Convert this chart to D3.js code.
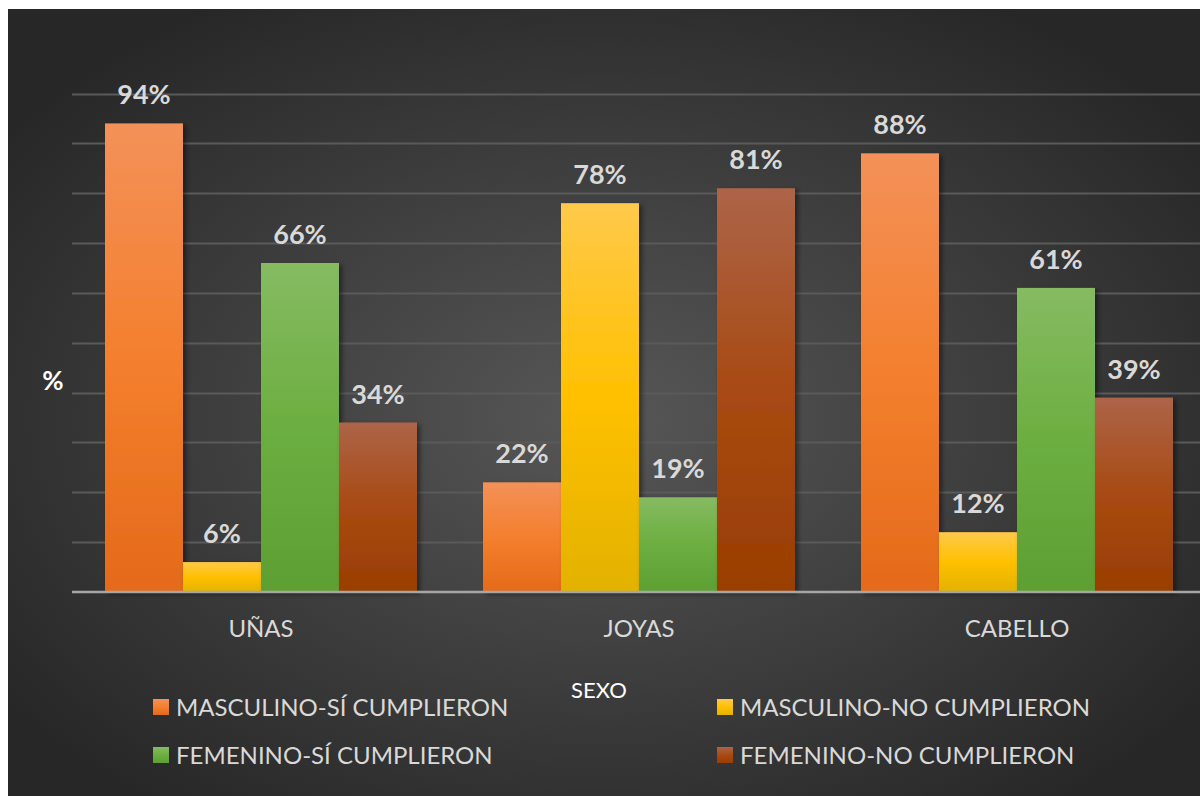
<!DOCTYPE html>
<html>
<head>
<meta charset="utf-8">
<script src="https://cdn.jsdelivr.net/npm/d3@7"></script>
<style>
  html, body { margin: 0; padding: 0; background: #ffffff; }
  svg { display: block; }
</style>
</head>
<body>
<svg id="chart" width="1200" height="796"></svg>
<script>
const categories = ["UÑAS", "JOYAS", "CABELLO"];
const seriesNames = ["MASCULINO-SÍ CUMPLIERON", "MASCULINO-NO CUMPLIERON", "FEMENINO-SÍ CUMPLIERON", "FEMENINO-NO CUMPLIERON"];
const masculinoSi = [94, 22, 88];
const masculinoNo = [6, 78, 12];
const femeninoSi = [66, 19, 61];
const femeninoNo = [34, 81, 39];
const yTicks = [0, 10, 20, 30, 40, 50, 60, 70, 80, 90, 100];
const xTitle = "SEXO";
const yTitle = "%";

const seriesValues = [masculinoSi, masculinoNo, femeninoSi, femeninoNo];
const gradStops = [
  ["#f39159", "#f47f2e", "#e46a1a"],
  ["#ffc94a", "#ffc000", "#e2b200"],
  ["#86bb62", "#6cae40", "#5e9f33"],
  ["#ad6448", "#a84a13", "#993e02"]
];

const svg = d3.select("#chart");
const W = 1200, H = 796;
const defs = svg.append("defs");

const bg = defs.append("radialGradient").attr("id", "bg")
  .attr("cx", "50%").attr("cy", "52%").attr("r", "62%");
bg.append("stop").attr("offset", "0%").attr("stop-color", "#575757");
bg.append("stop").attr("offset", "100%").attr("stop-color", "#272727");

gradStops.forEach((s, i) => {
  const g = defs.append("linearGradient").attr("id", "g" + i)
    .attr("x1", 0).attr("y1", 0).attr("x2", 0).attr("y2", 1);
  g.append("stop").attr("offset", "0%").attr("stop-color", s[0]);
  g.append("stop").attr("offset", "50%").attr("stop-color", s[1]);
  g.append("stop").attr("offset", "100%").attr("stop-color", s[2]);
});

const sh = defs.append("filter").attr("id", "shadow")
  .attr("x", "-10%").attr("y", "-10%").attr("width", "130%").attr("height", "130%");
sh.append("feDropShadow").attr("dx", 3).attr("dy", 2).attr("stdDeviation", 2.5)
  .attr("flood-color", "#000").attr("flood-opacity", 0.45);

svg.append("rect").attr("x", 8).attr("y", 9).attr("width", W - 8).attr("height", H - 9)
  .attr("fill", "url(#bg)");

const plotLeft = 72, plotRight = 1206, plotTop = 93.5, plotBottom = 592;
const y = d3.scaleLinear().domain([0, 100]).range([plotBottom, plotTop]);
const x0 = d3.scaleBand().domain(categories).range([plotLeft, plotRight])
  .paddingInner(0.1746).paddingOuter(0.0873);
const x1 = d3.scaleBand().domain(seriesNames).range([0, x0.bandwidth()]);

// gridlines
svg.append("g").selectAll("line").data(yTicks.filter(t => t > 0)).join("line")
  .attr("x1", plotLeft).attr("x2", W)
  .attr("y1", d => Math.round(y(d)) + 0.5).attr("y2", d => Math.round(y(d)) + 0.5)
  .attr("stroke", "#5a5a5a").attr("stroke-width", 2);

// bars
const groups = svg.append("g").selectAll("g").data(categories).join("g")
  .attr("transform", d => `translate(${x0(d)},0)`);

groups.selectAll("rect").data((c, ci) => seriesNames.map((s, si) => ({ s, si, v: seriesValues[si][ci] })))
  .join("rect")
  .attr("x", d => x1(d.s)).attr("width", x1.bandwidth())
  .attr("y", d => y(d.v)).attr("height", d => y(0) - y(d.v))
  .attr("fill", d => `url(#g${d.si})`)
  .attr("filter", "url(#shadow)");

// baseline
svg.append("line").attr("x1", plotLeft).attr("x2", W)
  .attr("y1", plotBottom).attr("y2", plotBottom)
  .attr("stroke", "#a6a6a6").attr("stroke-width", 2.5);

// value labels
groups.selectAll("text").data((c, ci) => seriesNames.map((s, si) => ({ s, si, v: seriesValues[si][ci] })))
  .join("text")
  .attr("x", d => x1(d.s) + x1.bandwidth() / 2)
  .attr("y", d => y(d.v) - 19)
  .attr("text-anchor", "middle")
  .attr("font-family", "Lato, 'Open Sans', sans-serif")
  .attr("font-weight", "bold")
  .attr("font-size", 27)
  .attr("fill", "#d9d9d9")
  .text(d => d.v + "%");

// x axis
const xAxis = svg.append("g").attr("transform", `translate(0,${plotBottom})`)
  .call(d3.axisBottom(x0).tickSize(0).tickPadding(28));
xAxis.select(".domain").remove();
xAxis.selectAll("text")
  .attr("font-family", "Lato, 'Open Sans', sans-serif")
  .attr("font-size", 24)
  .attr("fill", "#d9d9d9");

// axis titles
svg.append("text").attr("x", 53).attr("y", 390)
  .attr("text-anchor", "middle")
  .attr("font-family", "Lato, 'Open Sans', sans-serif")
  .attr("font-weight", "bold").attr("font-size", 26)
  .attr("fill", "#ffffff").text(yTitle);

svg.append("text").attr("x", 599).attr("y", 698)
  .attr("text-anchor", "middle")
  .attr("font-family", "Lato, 'Open Sans', sans-serif")
  .attr("font-size", 22)
  .attr("fill", "#ffffff").text(xTitle);

// legend
const legendPos = [[153, 707], [717, 707], [153, 755], [717, 755]];
const lg = svg.append("g").selectAll("g").data(seriesNames).join("g")
  .attr("transform", (d, i) => `translate(${legendPos[i][0]},${legendPos[i][1]})`);
lg.append("rect").attr("x", 0).attr("y", -8).attr("width", 16).attr("height", 16)
  .attr("fill", (d, i) => `url(#g${i})`);
lg.append("text").attr("x", 23).attr("y", 8.5)
  .attr("font-family", "Lato, 'Open Sans', sans-serif")
  .attr("font-size", 24)
  .attr("fill", "#d9d9d9")
  .text(d => d);
</script>
</body>
</html>
